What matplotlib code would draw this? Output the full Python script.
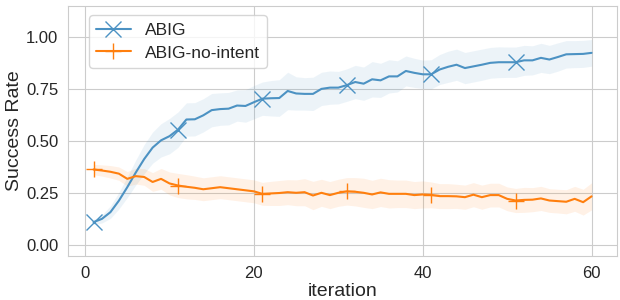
import numpy as np
import matplotlib
matplotlib.use("Agg")
import matplotlib.pyplot as plt
import seaborn as sns

# success rate per iteration (mean) and half-width of the shaded band
iterations = list(range(1, 61))

abig_mean = [0.112, 0.128, 0.160, 0.215, 0.280, 0.350, 0.415, 0.470, 0.505, 0.525,
             0.556, 0.605, 0.606, 0.625, 0.650, 0.655, 0.657, 0.672, 0.670, 0.688,
             0.705, 0.707, 0.708, 0.742, 0.730, 0.728, 0.728, 0.752, 0.758, 0.758,
             0.770, 0.785, 0.777, 0.798, 0.793, 0.812, 0.812, 0.838, 0.829, 0.822,
             0.822, 0.845, 0.858, 0.868, 0.852, 0.860, 0.868, 0.877, 0.880, 0.880,
             0.880, 0.889, 0.889, 0.901, 0.893, 0.905, 0.918, 0.919, 0.920, 0.925]
abig_err = [0.012, 0.020, 0.030, 0.040, 0.050, 0.060, 0.070, 0.075, 0.080, 0.085,
            0.085, 0.080, 0.080, 0.080, 0.080, 0.078, 0.078, 0.075, 0.078, 0.080,
            0.080, 0.085, 0.088, 0.090, 0.080, 0.078, 0.080, 0.080, 0.080, 0.078,
            0.078, 0.080, 0.080, 0.085, 0.082, 0.080, 0.075, 0.072, 0.070, 0.068,
            0.070, 0.072, 0.075, 0.075, 0.075, 0.075, 0.075, 0.074, 0.074, 0.073,
            0.073, 0.072, 0.070, 0.070, 0.068, 0.068, 0.066, 0.065, 0.065, 0.064]

nointent_mean = [0.365, 0.360, 0.354, 0.345, 0.320, 0.333, 0.329, 0.305, 0.320, 0.298,
                 0.288, 0.282, 0.277, 0.270, 0.275, 0.280, 0.275, 0.270, 0.265, 0.260,
                 0.248, 0.250, 0.252, 0.256, 0.253, 0.256, 0.240, 0.253, 0.242, 0.253,
                 0.260, 0.258, 0.253, 0.245, 0.255, 0.248, 0.248, 0.248, 0.242, 0.245,
                 0.243, 0.237, 0.237, 0.236, 0.232, 0.244, 0.232, 0.242, 0.242, 0.224,
                 0.216, 0.219, 0.220, 0.226, 0.216, 0.213, 0.210, 0.224, 0.208, 0.236]
nointent_err = [0.025, 0.027, 0.030, 0.032, 0.035, 0.038, 0.040, 0.045, 0.050, 0.055,
                0.058, 0.058, 0.056, 0.055, 0.055, 0.055, 0.055, 0.055, 0.055, 0.055,
                0.055, 0.058, 0.060, 0.060, 0.062, 0.065, 0.068, 0.065, 0.065, 0.065,
                0.066, 0.068, 0.070, 0.068, 0.068, 0.068, 0.066, 0.066, 0.065, 0.065,
                0.062, 0.060, 0.060, 0.058, 0.058, 0.058, 0.058, 0.057, 0.057, 0.057,
                0.058, 0.060, 0.058, 0.058, 0.057, 0.057, 0.058, 0.060, 0.062, 0.065]

sns.set_style("whitegrid")
plt.rcParams["font.family"] = ["Liberation Sans", "DejaVu Sans"]

fig, ax = plt.subplots(figsize=(6.2, 3.0), dpi=100)
fig.subplots_adjust(left=0.110, right=0.995, bottom=0.147, top=0.98)

series = [
    ("ABIG", abig_mean, abig_err, "#4c92c3", "x"),
    ("ABIG-no-intent", nointent_mean, nointent_err, "#ff7f0e", "+"),
]

x = np.array(iterations)
for label, mean, err, color, marker in series:
    mean = np.array(mean)
    err = np.array(err)
    ax.fill_between(x, mean - err, mean + err, color=color, alpha=0.1, linewidth=0)
    ax.plot(x, mean, color=color, linewidth=1.5, marker=marker, markevery=10,
            markersize=12, markeredgewidth=1.0, label=label)

ax.set_xlim(-2, 63)
ax.set_ylim(-0.05, 1.15)
ax.set_xticks([0, 20, 40, 60])
ax.set_yticks([0.0, 0.25, 0.5, 0.75, 1.0])
ax.set_yticklabels(["0.00", "0.25", "0.50", "0.75", "1.00"])
ax.tick_params(labelsize=12)
ax.set_xlabel("iteration", fontsize=14, labelpad=2)
ax.set_ylabel("Success Rate", fontsize=14, labelpad=2)
ax.legend(loc="upper left", fontsize=12.5, labelspacing=0.45,
          bbox_to_anchor=(0.038, 0.962), borderaxespad=0)

plt.savefig("out.png", dpi=100)
